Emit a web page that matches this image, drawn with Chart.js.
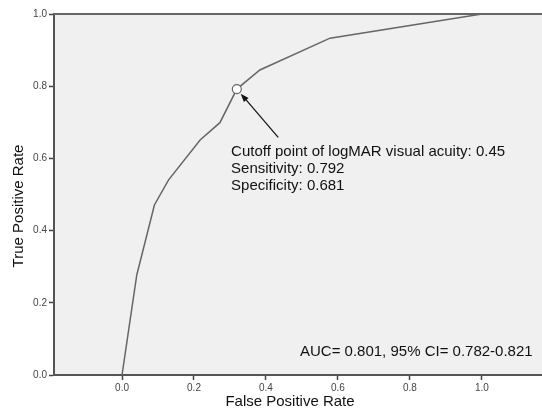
<!DOCTYPE html>
<html>
<head>
<meta charset="utf-8">
<script src="https://cdn.jsdelivr.net/npm/chart.js@4"></script>
<style>
  body { margin: 0; background: #fff; }
  #wrap { width: 542px; height: 411px; }
</style>
</head>
<body>
<div id="wrap"><canvas id="roc" width="542" height="411"></canvas></div>
<script>
// ROC curve
const fpr = [0, 0.041, 0.090, 0.129, 0.217, 0.272, 0.319, 0.383, 0.578, 1.0];
const tpr = [0, 0.277, 0.471, 0.540, 0.651, 0.699, 0.792, 0.845, 0.933, 1.0];
const cutoffFpr = [0.319];
const cutoffTpr = [0.792];
const tickValues = [0, 0.2, 0.4, 0.6, 0.8, 1.0];
const noteLines = ['Cutoff point of logMAR visual acuity: 0.45', 'Sensitivity: 0.792', 'Specificity: 0.681'];
const aucText = 'AUC= 0.801, 95% CI= 0.782-0.821';
const xTitle = 'False Positive Rate';
const yTitle = 'True Positive Rate';

const FONT = '"Liberation Sans", Arial, sans-serif';

const toPoints = (xs, ys) => xs.map((x, i) => ({ x: x, y: ys[i] }));

// gray plot background + top border line
const plotFrame = {
    id: 'plotFrame',
    beforeDraw(chart) {
        const { ctx, chartArea: a } = chart;
        ctx.save();
        ctx.fillStyle = '#f0f0f0';
        ctx.fillRect(a.left, a.top, a.right - a.left, a.bottom - a.top);
        ctx.restore();
    },
    afterDraw(chart) {
        const { ctx, chartArea: a } = chart;
        ctx.save();
        ctx.strokeStyle = '#666';
        ctx.lineWidth = 2;
        ctx.beginPath();
        ctx.moveTo(a.left, a.top);
        ctx.lineTo(a.right, a.top);
        ctx.stroke();
        ctx.restore();
    }
};

// annotation text, arrow and axis titles
const notes = {
    id: 'notes',
    afterDraw(chart) {
        const { ctx } = chart;
        const xs = chart.scales.x, ys = chart.scales.y;
        ctx.save();
        ctx.fillStyle = '#111';
        ctx.font = '15px ' + FONT;
        ctx.textBaseline = 'middle';
        ctx.textAlign = 'left';
        const tx = xs.getPixelForValue(0.303);
        const ty = ys.getPixelForValue(0.618);
        noteLines.forEach((t, i) => ctx.fillText(t, tx, ty + i * 17));
        ctx.textAlign = 'right';
        ctx.fillText(aucText, xs.getPixelForValue(1.141), ys.getPixelForValue(0.064));

        // arrow to the cutoff point
        const cx = xs.getPixelForValue(cutoffFpr[0]);
        const cy = ys.getPixelForValue(cutoffTpr[0]);
        const sx = xs.getPixelForValue(0.434);
        const sy = ys.getPixelForValue(0.658);
        const ang = Math.atan2(cy - sy, cx - sx);
        const hx = cx - Math.cos(ang) * 6;
        const hy = cy - Math.sin(ang) * 6;
        ctx.strokeStyle = '#111';
        ctx.lineWidth = 1.2;
        ctx.beginPath();
        ctx.moveTo(sx, sy);
        ctx.lineTo(hx - Math.cos(ang) * 5, hy - Math.sin(ang) * 5);
        ctx.stroke();
        ctx.beginPath();
        ctx.moveTo(hx, hy);
        ctx.lineTo(hx - Math.cos(ang - 0.35) * 9, hy - Math.sin(ang - 0.35) * 9);
        ctx.lineTo(hx - Math.cos(ang + 0.35) * 9, hy - Math.sin(ang + 0.35) * 9);
        ctx.closePath();
        ctx.fill();

        // axis titles
        ctx.textAlign = 'center';
        ctx.fillText(xTitle, 290, 402);
        ctx.translate(19, 206);
        ctx.rotate(-Math.PI / 2);
        ctx.fillText(yTitle, 0, 0);
        ctx.restore();
    }
};

const axisCommon = {
    type: 'linear',
    afterBuildTicks: (scale) => { scale.ticks = tickValues.map(v => ({ value: v })); },
    ticks: {
        callback: (v) => Number(v).toFixed(1),
        color: '#444',
        font: { family: FONT, size: 10 },
        padding: 2
    },
    grid: {
        display: true,
        drawOnChartArea: false,
        drawTicks: true,
        tickLength: 5,
        tickColor: '#444',
        tickWidth: 1.5
    },
    border: { display: true, color: '#555', width: 2 },
    title: { display: false }
};

new Chart(document.getElementById('roc'), {
    type: 'scatter',
    data: {
        datasets: [
            {
                label: 'ROC',
                data: toPoints(fpr, tpr),
                showLine: true,
                borderColor: '#666',
                borderWidth: 1.5,
                pointRadius: 0,
                tension: 0
            },
            {
                label: 'Cutoff',
                data: toPoints(cutoffFpr, cutoffTpr),
                order: -1,
                pointRadius: 4.5,
                pointBackgroundColor: '#fff',
                pointBorderColor: '#666',
                pointBorderWidth: 1.2
            }
        ]
    },
    options: {
        responsive: false,
        animation: false,
        layout: { autoPadding: false, padding: { top: 14, right: 0, left: 0, bottom: 0 } },
        plugins: {
            legend: { display: false },
            tooltip: { enabled: false }
        },
        scales: {
            x: Object.assign({}, axisCommon, {
                min: -0.189,
                max: 1.167,
                afterFit: (s) => { s.height = 36; }
            }),
            y: Object.assign({}, axisCommon, {
                min: 0,
                max: 1,
                afterFit: (s) => { s.width = 54; }
            })
        }
    },
    plugins: [plotFrame, notes]
});
</script>
</body>
</html>
